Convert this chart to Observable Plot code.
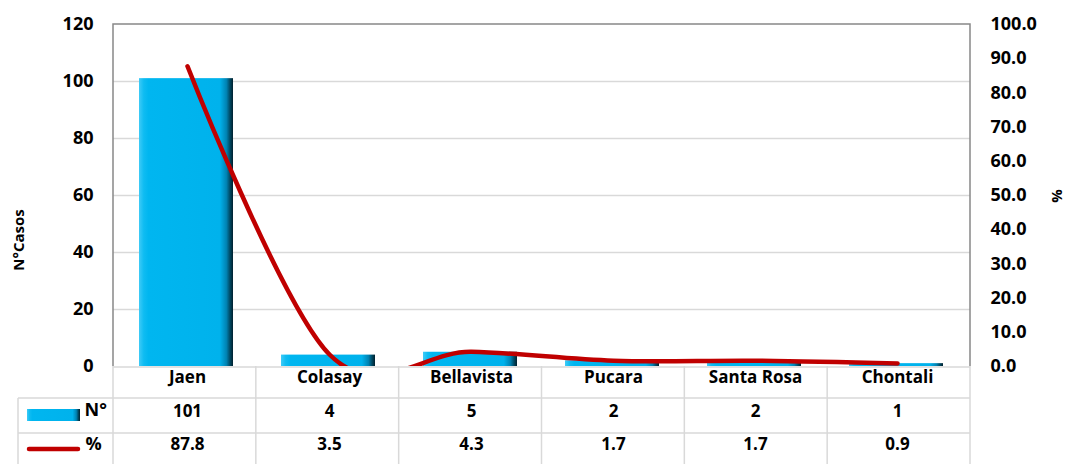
<!DOCTYPE html>
<html>
<head>
<meta charset="utf-8">
<script src="https://cdn.jsdelivr.net/npm/d3@7"></script>
<script src="https://cdn.jsdelivr.net/npm/@observablehq/plot@0.6"></script>
<style>
  html, body { margin: 0; padding: 0; background: #fff; }
  #chart { width: 1067px; height: 464px; }
</style>
</head>
<body>
<div id="chart"></div>
<script>
const categories = ["Jaen", "Colasay", "Bellavista", "Pucara", "Santa Rosa", "Chontali"];
const casos = [101, 4, 5, 2, 2, 1];
const pct = [87.8, 3.5, 4.3, 1.7, 1.7, 0.9];
const leftTicks = [0, 20, 40, 60, 80, 100, 120];
const rightTicks = [0, 10, 20, 30, 40, 50, 60, 70, 80, 90, 100];
const rowLabels = ["N°", "%"];
const yTitle = "N°Casos";
const y2Title = "%";

const K = 120 / 100; // right-axis (%) to left-axis units
const data = categories.map((c, i) => ({cat: c, n: casos[i], p: pct[i]}));

const W = 1067, H = 464;
const ML = 113, MR = 97, MT = 24, MB = 98;
const FONT = "'Open Sans', Lato, sans-serif";

function decor(index, scales, values, dims) {
  const g = d3.create("svg:g");
  const defs = g.append("defs");
  const gr = defs.append("linearGradient").attr("id", "barGrad").attr("x1", 0).attr("x2", 1).attr("y1", 0).attr("y2", 0);
  [[0, "#3fcbf7"], [0.05, "#0fbcf2"], [0.1, "#00b6f0"], [0.86, "#00b2ec"], [0.93, "#0083b3"], [0.97, "#00465f"], [1, "#00202e"]]
    .forEach(([o, c]) => gr.append("stop").attr("offset", o).attr("stop-color", c));
  return g.node();
}

function table(index, scales, values, dims) {
  const {width, height, marginLeft, marginRight, marginBottom, marginTop} = dims;
  const x0 = marginLeft, x1 = width - marginRight;
  const yTop = height - marginBottom;
  const r1 = yTop + 32, r2 = yTop + 67, yEnd = height + 2;
  const wrap = d3.create("svg:g");
  const g = wrap.append("g").attr("stroke", "#d9d9d9").attr("stroke-width", 1.5).attr("fill", "none");
  const step = (x1 - x0) / categories.length;
  for (let i = 0; i <= categories.length; i++) {
    const x = x0 + i * step;
    g.append("line").attr("x1", x).attr("x2", x).attr("y1", yTop).attr("y2", yEnd);
  }
  const xl = 18;
  g.append("line").attr("x1", xl).attr("x2", xl).attr("y1", r1).attr("y2", yEnd);
  g.append("line").attr("x1", x0).attr("x2", x1).attr("y1", yTop + 1).attr("y2", yTop + 1);
  g.append("line").attr("x1", xl).attr("x2", x1).attr("y1", r1).attr("y2", r1);
  g.append("line").attr("x1", xl).attr("x2", x1).attr("y1", r2).attr("y2", r2);
  // legend swatches
  g.append("rect").attr("x", 27).attr("y", r1 + 11).attr("width", 53).attr("height", 12)
    .attr("fill", "url(#barGrad)").attr("stroke", "none");
  g.append("line").attr("x1", 29).attr("x2", 78).attr("y1", r2 + 16).attr("y2", r2 + 16)
    .attr("stroke", "#c00000").attr("stroke-width", 4.5).attr("stroke-linecap", "round");
  // plot frame (left, top, right)
  wrap.append("path").attr("stroke", "#888").attr("stroke-width", 1.5).attr("fill", "none")
    .attr("d", `M${x0},${yTop}V${marginTop}H${x1}V${yTop}`);
  // rotated axis titles
  wrap.append("text").attr("transform", `translate(24,240) rotate(-90)`)
    .attr("text-anchor", "middle").attr("font-size", 15).attr("fill", "#000").text(yTitle);
  wrap.append("text").attr("transform", `translate(1062,196) rotate(-90)`)
    .attr("text-anchor", "middle").attr("font-size", 15).attr("fill", "#000").text(y2Title);
  return wrap.node();
}

const plot = Plot.plot({
  width: W, height: H,
  marginLeft: ML, marginRight: MR, marginTop: MT, marginBottom: MB,
  style: {fontFamily: FONT, fontSize: "17px", fontWeight: "bold", color: "#000", background: "#fff"},
  x: {domain: categories, type: "band", padding: 0, axis: null},
  y: {domain: [0, 120], axis: null},
  marks: [
    decor,
    Plot.gridY([20, 40, 60, 80, 100], {stroke: "#d9d9d9", strokeOpacity: 1, strokeWidth: 1.5}),
    Plot.barY(data, {x: "cat", y: "n", fill: "url(#barGrad)", insetLeft: 23, insetRight: 25}),
    Plot.line(data, {x: "cat", y: d => d.p * K, stroke: "#c00000", strokeWidth: 4.5, curve: "cardinal",
      strokeLinecap: "round", clip: true}),
    table,
    Plot.axisY({ticks: leftTicks, tickSize: 0, tickPadding: 20, anchor: "left", label: null, fontSize: 18}),
    Plot.axisY({ticks: rightTicks.map(v => v * K), tickSize: 0, tickPadding: 20, anchor: "right", label: null,
      tickFormat: d => (d / K).toFixed(1), textAnchor: "start", fontSize: 18}),
    Plot.text(data, {x: "cat", text: "cat", frameAnchor: "bottom", dy: 16, fontSize: 17}),
    Plot.text(data, {x: "cat", text: d => String(d.n), frameAnchor: "bottom", dy: 50, fontSize: 17}),
    Plot.text(data, {x: "cat", text: d => d.p.toFixed(1), frameAnchor: "bottom", dy: 83, fontSize: 17}),
    Plot.text([rowLabels[0]], {frameAnchor: "bottom-left", dx: -29, dy: 49, textAnchor: "start", fontSize: 18}),
    Plot.text([rowLabels[1]], {frameAnchor: "bottom-left", dx: -28, dy: 83, textAnchor: "start", fontSize: 18})
  ]
});
document.getElementById("chart").appendChild(plot);
</script>
</body>
</html>
